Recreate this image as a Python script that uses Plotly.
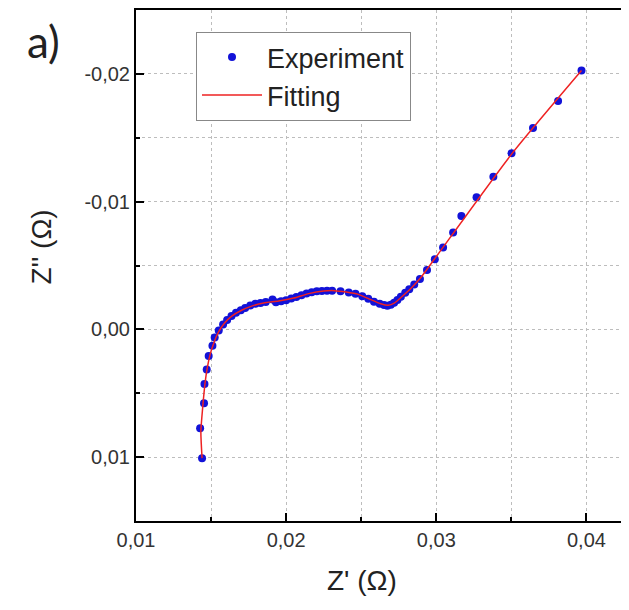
import plotly.graph_objects as go

# Nyquist data, Z' and Z'' in ohm (Z'' axis shown reversed)
exp_re = [0.01440, 0.01427, 0.01453, 0.01456, 0.01471, 0.01484, 0.01509, 0.01524,
          0.01551, 0.01580, 0.01607, 0.01636, 0.01666, 0.01698, 0.01727, 0.01761,
          0.01795, 0.01829, 0.01864, 0.01909, 0.01932, 0.01966, 0.02000, 0.02034,
          0.02068, 0.02102, 0.02136, 0.02170, 0.02204, 0.02238, 0.02272, 0.02306,
          0.02362, 0.02417, 0.02462, 0.02507, 0.02547, 0.02585, 0.02623, 0.02652,
          0.02674, 0.02697, 0.02719, 0.02741, 0.02764, 0.02793, 0.02820, 0.02853,
          0.02891, 0.02938, 0.02990, 0.03045, 0.03112, 0.03167, 0.03268, 0.03380,
          0.03501, 0.03644, 0.03811, 0.03967]
exp_im = [0.01008, 0.00773, 0.00578, 0.00427, 0.00315, 0.00208, 0.00128, 0.00063,
          0.00008, -0.00039, -0.00073, -0.00104, -0.00130, -0.00150, -0.00168, -0.00186,
          -0.00200, -0.00207, -0.00215, -0.00233, -0.00212, -0.00220, -0.00228, -0.00241,
          -0.00254, -0.00267, -0.00280, -0.00290, -0.00298, -0.00300, -0.00303, -0.00303,
          -0.00299, -0.00288, -0.00278, -0.00260, -0.00239, -0.00216, -0.00200, -0.00190,
          -0.00184, -0.00192, -0.00208, -0.00229, -0.00255, -0.00286, -0.00314, -0.00351,
          -0.00395, -0.00465, -0.00548, -0.00641, -0.00758, -0.00888, -0.01034, -0.01195,
          -0.01378, -0.01577, -0.01787, -0.02026]

fit_re = [0.01440, 0.01432, 0.01445, 0.01460, 0.01475, 0.01495, 0.01520, 0.01550,
          0.01590, 0.01640, 0.01700, 0.01770, 0.01850, 0.01950, 0.02050, 0.02150,
          0.02250, 0.02320, 0.02400, 0.02480, 0.02560, 0.02630, 0.02680, 0.02720,
          0.02770, 0.02830, 0.02900, 0.03000, 0.03500, 0.03967]
fit_im = [0.01008, 0.00800, 0.00600, 0.00420, 0.00300, 0.00190, 0.00100, 0.00020,
          -0.00050, -0.00105, -0.00148, -0.00182, -0.00207, -0.00222, -0.00245, -0.00280,
          -0.00300, -0.00303, -0.00292, -0.00274, -0.00235, -0.00200, -0.00188, -0.00205,
          -0.00255, -0.00320, -0.00410, -0.00570, -0.01370, -0.02026]

x_ticks = [0.01, 0.02, 0.03, 0.04]
x_ticktext = ["0,01", "0,02", "0,03", "0,04"]
x_minor = [0.015, 0.025, 0.035]
y_ticks = [-0.02, -0.01, 0.0, 0.01]
y_ticktext = ["-0,02", "-0,01", "0,00", "0,01"]
y_minor = [-0.015, -0.005, 0.005]

fig = go.Figure()
fig.add_trace(go.Scatter(x=exp_re, y=exp_im, mode="markers", name="Experiment",
                         marker=dict(color="#1212d8", size=8)))
fig.add_trace(go.Scatter(x=fit_re, y=fit_im, mode="lines", name="Fitting",
                         line=dict(color="#ee2222", width=1.5, shape="spline",
                                   smoothing=0.6)))

grid = dict(showgrid=True, gridcolor="#bdbdbd", gridwidth=1, griddash="dot")
axis_common = dict(showline=True, linecolor="black", linewidth=2, mirror=True,
                   ticks="inside", ticklen=8, tickwidth=2, tickcolor="black",
                   zeroline=False, tickfont=dict(size=20, color="#333333"),
                   tickmode="array", **grid)

fig.update_xaxes(range=[0.01, 0.0423], tickvals=x_ticks, ticktext=x_ticktext,
                 minor=dict(tickmode="array", tickvals=x_minor, ticks="inside",
                            ticklen=4, tickwidth=2, tickcolor="black", **grid),
                 **axis_common)
fig.update_yaxes(range=[0.015, -0.025], tickvals=y_ticks, ticktext=y_ticktext,
                 minor=dict(tickmode="array", tickvals=y_minor, ticks="inside",
                            ticklen=4, tickwidth=2, tickcolor="black", **grid),
                 **axis_common)

fig.add_annotation(text="a)", xref="paper", yref="paper", x=-0.19, y=0.94,
                   showarrow=False, xanchor="center", yanchor="middle",
                   font=dict(family="Lato", size=44, color="#222222"))
fig.add_annotation(text="Z' (Ω)", xref="paper", yref="paper", x=0.466, y=-0.117,
                   showarrow=False, xanchor="center", yanchor="middle",
                   font=dict(size=28, color="#222222"))
fig.add_annotation(text="Z'' (Ω)", xref="paper", yref="paper", x=-0.194, y=0.537,
                   showarrow=False, xanchor="center", yanchor="middle", textangle=-90,
                   font=dict(size=28, color="#222222"))

# the page body adds an 8 px margin, so the figure is 8 px smaller than the window
fig.update_layout(
    width=621, height=602,
    margin=dict(l=128, r=8, t=0, b=89),
    plot_bgcolor="white", paper_bgcolor="white",
    font=dict(family="Liberation Sans, Arial, sans-serif", color="#222222"),
    showlegend=True,
    legend=dict(x=0.1237, y=0.957, xanchor="left", yanchor="top",
                bgcolor="white", bordercolor="#888888", borderwidth=1,
                font=dict(size=27, color="#222222"), itemwidth=60,
                tracegroupgap=0),
)

fig.write_html("out.html")
